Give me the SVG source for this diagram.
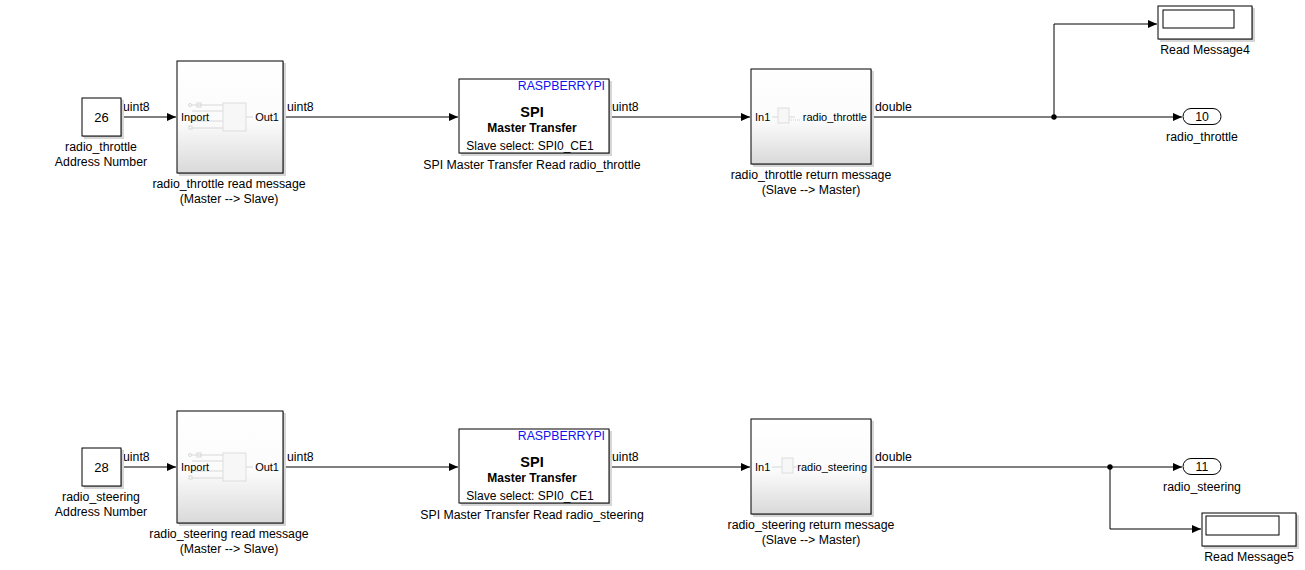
<svg xmlns="http://www.w3.org/2000/svg" width="1305" height="570" viewBox="0 0 1305 570">
<defs>
<linearGradient id="sub" x1="0" y1="0" x2="0" y2="1">
<stop offset="0" stop-color="#ffffff"/>
<stop offset="0.55" stop-color="#fbfbfb"/>
<stop offset="1" stop-color="#d9d9d9"/>
</linearGradient>
<marker id="ar" markerWidth="10" markerHeight="8" refX="9" refY="4" orient="auto" markerUnits="userSpaceOnUse">
<path d="M0,0 L9,4 L0,8 Z" fill="#000"/>
</marker>
</defs>
<style>
text{font-family:"Liberation Sans",Arial,sans-serif;font-size:12.3px;fill:#000}
.c{text-anchor:middle}
.r{text-anchor:end}
.s{font-size:11px}
.b{font-weight:bold}
.blk{fill:#fff;stroke:#000;stroke-width:1}
.sh{fill:#d6d6d6}
.sh2{fill:#a8a8a8}
.sub{fill:url(#sub);stroke:#000;stroke-width:1}
.in{fill:none;stroke:#d8d8d8;stroke-width:1}
.inb{fill:#f7f7f7;stroke:#dddddd;stroke-width:1}
.w{fill:none;stroke:#000;stroke-width:1}
</style>
<rect width="1305" height="570" fill="#fff"/>

<g id="connectors">
<path class="w" d="M121,117 H176" marker-end="url(#ar)"/>
<path class="w" d="M283,117 H458" marker-end="url(#ar)"/>
<path class="w" d="M609,117 H750" marker-end="url(#ar)"/>
<path class="w" d="M871,117 H1182" marker-end="url(#ar)"/>
<path class="w" d="M1054,117 V24 H1157" marker-end="url(#ar)"/>
<circle cx="1054" cy="117" r="2.7" fill="#000"/>
<text x="123" y="111">uint8</text>
<text x="287" y="111">uint8</text>
<text x="612" y="111">uint8</text>
<text x="875" y="111">double</text>

<path class="w" d="M121,467 H176" marker-end="url(#ar)"/>
<path class="w" d="M283,467 H458" marker-end="url(#ar)"/>
<path class="w" d="M609,467 H750" marker-end="url(#ar)"/>
<path class="w" d="M871,467 H1182" marker-end="url(#ar)"/>
<path class="w" d="M1110,467 V529 H1201" marker-end="url(#ar)"/>
<circle cx="1110" cy="467" r="2.7" fill="#000"/>
<text x="123" y="461">uint8</text>
<text x="287" y="461">uint8</text>
<text x="612" y="461">uint8</text>
<text x="875" y="461">double</text>
</g>

<!-- Top row -->
<g id="const26">
<rect class="sh" x="84" y="100" width="40" height="39"/>
<rect class="sh2" x="83" y="99" width="39" height="38"/>
<rect class="blk" x="82" y="98" width="39" height="38"/>
<text class="c" x="101.5" y="122" style="font-size:13px">26</text>
<text class="c" x="101" y="151">radio_throttle</text>
<text class="c" x="101" y="166">Address Number</text>
</g>

<g id="sub_read1">
<rect class="sh" x="179" y="63" width="107" height="113"/>
<rect class="sh2" x="178" y="62" width="106" height="112"/>
<rect class="sub" x="177" y="61" width="106" height="112"/>
<path class="in" d="M192,105 H223 M192,111 H223 M192,121 H223 M192,128 H223 M246,117 H253"/>
<circle cx="190" cy="105" r="1.5" class="in"/>
<rect x="197" y="103" width="4" height="4" class="in"/>
<rect x="189" y="126" width="3" height="3" class="in"/>
<rect class="inb" x="223" y="103" width="23" height="28"/>
<text class="s" x="181" y="121">Inport</text>
<text class="s r" x="279" y="121">Out1</text>
<text class="c" x="229" y="188">radio_throttle read message</text>
<text class="c" x="229" y="203">(Master --&gt; Slave)</text>
</g>

<g id="spi1">
<rect class="sh" x="461" y="81" width="151" height="75"/>
<rect class="sh2" x="460" y="80" width="150" height="74"/>
<rect class="blk" x="459" y="79" width="150" height="74"/>
<text class="r" x="605" y="90" style="fill:#1010ee">RASPBERRYPI</text>
<text class="c b" x="532" y="117" style="font-size:14.5px">SPI</text>
<text class="c b" x="532" y="132" style="font-size:12px">Master Transfer</text>
<text class="c" x="530" y="150" style="font-size:12px">Slave select: SPI0_CE1</text>
<text class="c" x="532" y="169">SPI Master Transfer Read radio_throttle</text>
</g>

<g id="sub_ret1">
<rect class="sh" x="753" y="71" width="121" height="96"/>
<rect class="sh2" x="752" y="70" width="120" height="95"/>
<rect class="sub" x="751" y="69" width="120" height="95"/>
<path class="in" d="M772,117 H778 M789,117 H795"/>
<path d="M789,120 H800" stroke="#ccc" stroke-dasharray="1,1"/>
<rect class="inb" x="778" y="108" width="11" height="15"/>
<text class="s" x="755" y="121">In1</text>
<text class="s r" x="867" y="121">radio_throttle</text>
<text class="c" x="811" y="179">radio_throttle return message</text>
<text class="c" x="811" y="194">(Slave --&gt; Master)</text>
</g>

<g id="display4">
<rect class="sh" x="1160" y="8" width="95" height="34"/>
<rect class="sh2" x="1159" y="7" width="94" height="33"/>
<rect class="blk" x="1158" y="6" width="94" height="33"/>
<rect class="w" x="1163" y="10" width="71" height="18"/>
<text class="c" x="1205" y="54">Read Message4</text>
</g>

<g id="out10">
<rect class="blk" x="1183" y="108.5" width="38" height="16" rx="8"/>
<text class="c" x="1202" y="121">10</text>
<text class="c" x="1202" y="141">radio_throttle</text>
</g>

<!-- Bottom row -->
<g id="const28">
<rect class="sh" x="84" y="450" width="40" height="39"/>
<rect class="sh2" x="83" y="449" width="39" height="38"/>
<rect class="blk" x="82" y="448" width="39" height="38"/>
<text class="c" x="101.5" y="472" style="font-size:13px">28</text>
<text class="c" x="101" y="501">radio_steering</text>
<text class="c" x="101" y="516">Address Number</text>
</g>

<g id="sub_read2">
<rect class="sh" x="179" y="413" width="107" height="113"/>
<rect class="sh2" x="178" y="412" width="106" height="112"/>
<rect class="sub" x="177" y="411" width="106" height="112"/>
<path class="in" d="M192,455 H223 M192,461 H223 M192,471 H223 M192,478 H223 M246,467 H253"/>
<circle cx="190" cy="455" r="1.5" class="in"/>
<rect x="197" y="453" width="4" height="4" class="in"/>
<rect x="189" y="476" width="3" height="3" class="in"/>
<rect class="inb" x="223" y="453" width="23" height="28"/>
<text class="s" x="181" y="471">Inport</text>
<text class="s r" x="279" y="471">Out1</text>
<text class="c" x="229" y="538">radio_steering read message</text>
<text class="c" x="229" y="553">(Master --&gt; Slave)</text>
</g>

<g id="spi2">
<rect class="sh" x="461" y="431" width="151" height="75"/>
<rect class="sh2" x="460" y="430" width="150" height="74"/>
<rect class="blk" x="459" y="429" width="150" height="74"/>
<text class="r" x="605" y="440" style="fill:#1010ee">RASPBERRYPI</text>
<text class="c b" x="532" y="467" style="font-size:14.5px">SPI</text>
<text class="c b" x="532" y="482" style="font-size:12px">Master Transfer</text>
<text class="c" x="530" y="500" style="font-size:12px">Slave select: SPI0_CE1</text>
<text class="c" x="532" y="519">SPI Master Transfer Read radio_steering</text>
</g>

<g id="sub_ret2">
<rect class="sh" x="753" y="421" width="121" height="96"/>
<rect class="sh2" x="752" y="420" width="120" height="95"/>
<rect class="sub" x="751" y="419" width="120" height="95"/>
<path class="in" d="M772,467 H782 M793,467 H797"/>
<rect class="inb" x="782" y="458" width="11" height="15"/>
<text class="s" x="755" y="471">In1</text>
<text class="s r" x="867" y="471">radio_steering</text>
<text class="c" x="811" y="529">radio_steering return message</text>
<text class="c" x="811" y="544">(Slave --&gt; Master)</text>
</g>

<g id="out11">
<rect class="blk" x="1183" y="458.5" width="38" height="16" rx="8"/>
<text class="c" x="1202" y="471">11</text>
<text class="c" x="1202" y="491">radio_steering</text>
</g>

<g id="display5">
<rect class="sh" x="1204" y="515" width="95" height="34"/>
<rect class="sh2" x="1203" y="514" width="94" height="33"/>
<rect class="blk" x="1202" y="513" width="94" height="33"/>
<rect class="w" x="1206" y="516" width="73" height="19"/>
<text class="c" x="1249" y="561">Read Message5</text>
</g>
</svg>
